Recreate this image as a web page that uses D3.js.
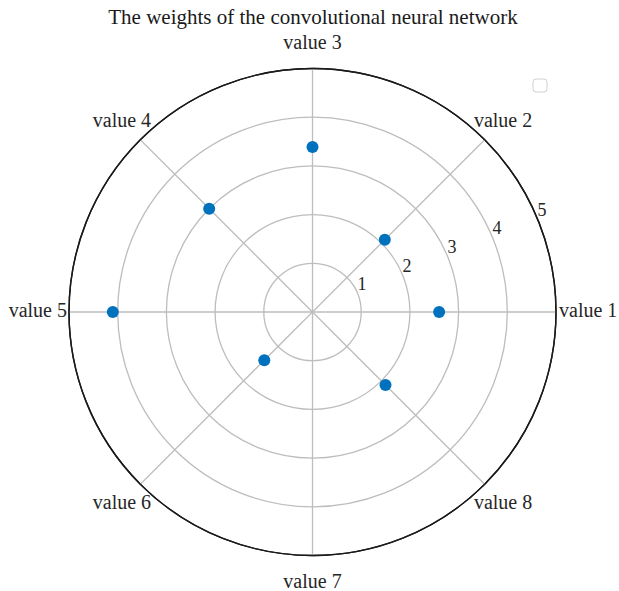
<!DOCTYPE html>
<html>
<head>
<meta charset="utf-8">
<script src="https://cdn.jsdelivr.net/npm/d3@7"></script>
<style>
  body { margin: 0; background: #fff; }
  svg { display: block; font-family: "Liberation Serif", "DejaVu Serif", serif; }
</style>
</head>
<body>
<div id="chart"></div>
<script>
// data
const title = "The weights of the convolutional neural network";
const categories = ["value 1", "value 2", "value 3", "value 4", "value 5", "value 6", "value 7", "value 8"];
const angles = [0, 45, 90, 135, 180, 225, 270, 315];
const weights = [2.6, 2.1, 3.39, 3.0, 4.1, 1.4, null, 2.12];
const rTicks = [1, 2, 3, 4, 5];

const width = 619, height = 591;
const cx = 312.5, cy = 312, R = 243.5;

const svg = d3.select("#chart").append("svg")
  .attr("width", width)
  .attr("height", height);

const r = d3.scaleLinear().domain([0, 5]).range([0, R]);
const rad = d => d * Math.PI / 180;
const px = (deg, rr) => cx + rr * Math.cos(rad(deg));
const py = (deg, rr) => cy - rr * Math.sin(rad(deg));

const g = svg.append("g");

// rings
g.selectAll("circle.ring")
  .data(rTicks)
  .enter().append("circle")
    .attr("class", "ring")
    .attr("cx", cx)
    .attr("cy", cy)
    .attr("r", d => r(d))
    .attr("fill", "none")
    .attr("stroke", d => d === 5 ? "#1a1a1a" : "#bdbdbd")
    .attr("stroke-width", d => d === 5 ? 1.4 : 1.3);

// spokes
g.selectAll("line.spoke")
  .data(angles)
  .enter().append("line")
    .attr("class", "spoke")
    .attr("x1", cx)
    .attr("y1", cy)
    .attr("x2", d => px(d, R))
    .attr("y2", d => py(d, R))
    .attr("stroke", "#bdbdbd")
    .attr("stroke-width", 1.3);

// outer circle on top
g.append("circle")
  .attr("cx", cx).attr("cy", cy).attr("r", r(5))
  .attr("fill", "none").attr("stroke", "#1a1a1a").attr("stroke-width", 1.4);

// radial tick labels along 22.5 deg
g.selectAll("text.rtick")
  .data(rTicks)
  .enter().append("text")
    .attr("class", "rtick")
    .attr("x", d => px(22.5, r(d)) + 4.5)
    .attr("y", d => py(22.5, r(d)) - 9 + 6)
    .attr("text-anchor", "middle")
    .attr("font-size", 18)
    .attr("fill", "#262626")
    .text(d => d);

// angle labels
g.selectAll("text.theta")
  .data(categories)
  .enter().append("text")
    .attr("class", "theta")
    .each(function(d, i) {
      const a = angles[i];
      const t = d3.select(this);
      if (a === 0) {
        t.attr("x", px(a, R) + 3).attr("y", cy + 5).attr("text-anchor", "start");
      } else if (a === 180) {
        t.attr("x", px(a, R) - 2).attr("y", cy + 5).attr("text-anchor", "end");
      } else {
        t.attr("x", px(a, R + 26)).attr("y", py(a, R + 26) + 6).attr("text-anchor", "middle");
      }
    })
    .attr("font-size", 20)
    .attr("fill", "#262626")
    .text(d => d);

// points
const pts = weights.map((v, i) => ({ a: angles[i], v: v })).filter(d => d.v != null);
g.selectAll("circle.pt")
  .data(pts)
  .enter().append("circle")
    .attr("class", "pt")
    .attr("cx", d => px(d.a, r(d.v)))
    .attr("cy", d => py(d.a, r(d.v)))
    .attr("r", 6)
    .attr("fill", "#0072BD");

// title
svg.append("text")
  .attr("x", 313)
  .attr("y", 24)
  .attr("text-anchor", "middle")
  .attr("font-size", 21)
  .attr("fill", "#1a1a1a")
  .text(title);

// empty legend box
svg.append("rect")
  .attr("x", 533).attr("y", 79)
  .attr("width", 14).attr("height", 13)
  .attr("rx", 3)
  .attr("fill", "#fff")
  .attr("stroke", "#d0d0d0")
  .attr("stroke-width", 1);
</script>
</body>
</html>
